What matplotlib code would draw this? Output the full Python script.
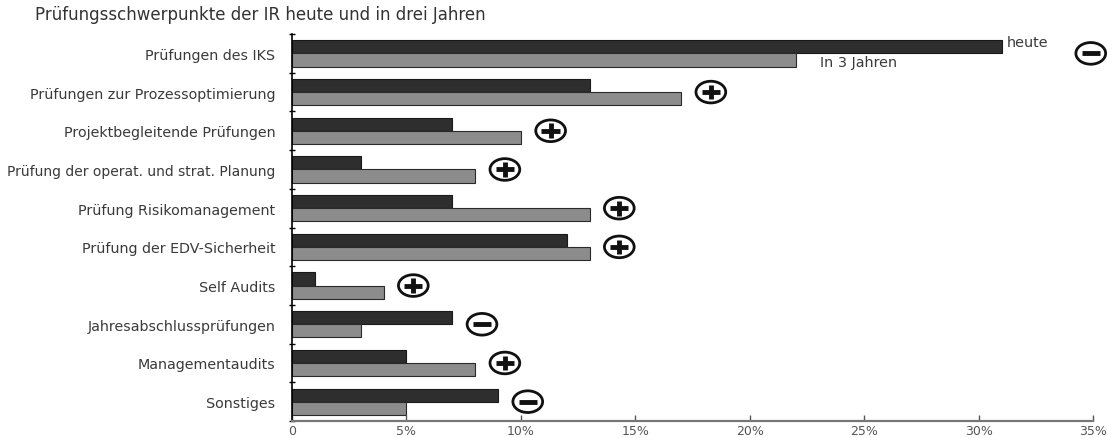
import numpy as np
import matplotlib
matplotlib.use("Agg")
import matplotlib.pyplot as plt
from matplotlib.patches import Ellipse

plt.rcParams["font.family"] = ["DejaVu Sans"]

# ----------------------------
# Data (shares in %)
# ----------------------------
categories = [
    "Prüfungen des IKS",
    "Prüfungen zur Prozessoptimierung",
    "Projektbegleitende Prüfungen",
    "Prüfung der operat. und strat. Planung",
    "Prüfung Risikomanagement",
    "Prüfung der EDV-Sicherheit",
    "Self Audits",
    "Jahresabschlussprüfungen",
    "Managementaudits",
    "Sonstiges",
]
heute = [31, 13, 7, 3, 7, 12, 1, 7, 5, 9]
in_3_jahren = [22, 17, 10, 8, 13, 13, 4, 3, 8, 5]
trend = ["-", "+", "+", "+", "+", "+", "+", "-", "+", "-"]
x_ticks = [0, 5, 10, 15, 20, 25, 30, 35]
x_ticklabels = ["0", "5%", "10%", "15%", "20%", "25%", "30%", "35%"]

# ----------------------------
# Plot
# ----------------------------
fig = plt.figure(figsize=(11.07, 4.39), dpi=100)
ax = fig.add_axes([0.2638, 0.0387, 0.7236, 0.8815])

y = np.arange(len(categories))
h = 0.34
ax.barh(y - h / 2, heute, height=h, color="#2e2e2e", edgecolor="#1a1a1a", linewidth=0.8)
ax.barh(y + h / 2, in_3_jahren, height=h, color="#8c8c8c", edgecolor="#2a2a2a", linewidth=0.8)

ax.set_xlim(0, 35)
ax.set_ylim(len(categories) - 0.5, -0.5)

ax.set_yticks(y)
ax.set_yticklabels(categories, fontsize=10.3, color="#3a3a3a")
ax.get_yticklabels()[3].set_fontsize(10.0)
ax.set_yticks(np.arange(-0.5, len(categories)), minor=True)
ax.tick_params(axis="y", which="major", length=0, pad=12)
ax.tick_params(axis="y", which="minor", length=4, direction="inout", width=1)

ax.set_xticks(x_ticks)
ax.set_xticklabels(x_ticklabels, fontsize=9, color="#4a4a4a")
ax.tick_params(axis="x", length=4, direction="in", width=1, pad=2, colors="#555555")

for s in ["top", "right"]:
    ax.spines[s].set_visible(False)
ax.spines["left"].set_linewidth(1.2)
ax.spines["bottom"].set_linewidth(1.6)
ax.spines["bottom"].set_color("#777777")

# series labels next to the first pair of bars
ax.text(heute[0] + 0.25, y[0] - h / 2 - 0.12, "heute", fontsize=10.4,
        va="center", ha="left", color="#3a3a3a")
ax.text(in_3_jahren[0] + 1.05, y[0] + h / 2 + 0.05, "In 3 Jahren", fontsize=10.4,
        va="center", ha="left", color="#3a3a3a")

# trend symbols (+ / -)
for i, sign in enumerate(trend):
    xm = max(heute[i], in_3_jahren[i]) + 1.3
    if i == 0:
        xm = heute[i] + 3.9
    ax.add_patch(Ellipse((xm, y[i]), width=1.3, height=0.56, facecolor="white",
                         edgecolor="#111111", linewidth=2.0, clip_on=False))
    ax.plot([xm - 0.4, xm + 0.4], [y[i], y[i]], color="#111111", lw=3.5,
            solid_capstyle="butt", clip_on=False)
    if sign == "+":
        ax.plot([xm, xm], [y[i] - 0.19, y[i] + 0.19], color="#111111", lw=3.5,
                solid_capstyle="butt", clip_on=False)

fig.text(0.032, 0.965, "Prüfungsschwerpunkte der IR heute und in drei Jahren",
         fontsize=12, va="center", ha="left", color="#333333")

plt.savefig("out.png", dpi=100)
plt.close()
